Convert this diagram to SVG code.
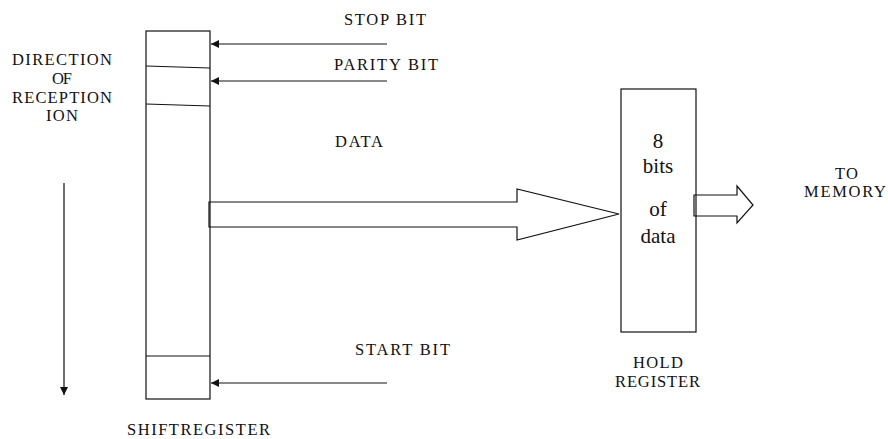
<svg xmlns="http://www.w3.org/2000/svg" width="888" height="439" viewBox="0 0 888 439">
<style>
.lbl{font-family:"Liberation Serif","Times New Roman",serif;font-size:16.5px;fill:#111}
.big{font-family:"Liberation Serif","Times New Roman",serif;font-size:21px;fill:#111;text-anchor:middle}
.box{fill:#fff;stroke:#111;stroke-width:1.2}
.ln{stroke:#111;stroke-width:1.2;fill:none}
</style>
<defs>
<marker id="ah" viewBox="0 0 10 10" refX="10" refY="5" markerWidth="8" markerHeight="8" markerUnits="userSpaceOnUse" orient="auto">
<path d="M0,0 L10,5 L0,10 z" fill="#111"/>
</marker>
</defs>
<rect width="888" height="439" fill="#fff"/>
<g id="direction">
<text class="lbl" x="12" y="65" textLength="100" lengthAdjust="spacing">DIRECTION</text>
<text class="lbl" x="52" y="84" textLength="20" lengthAdjust="spacing">OF</text>
<text class="lbl" x="12" y="103" textLength="100" lengthAdjust="spacing">RECEPTION</text>
<text class="lbl" x="46" y="121" textLength="32" lengthAdjust="spacing">ION</text>
<line class="ln" x1="64" y1="183" x2="64" y2="395" marker-end="url(#ah)"/>
</g>
<g id="shift-register">
<rect class="box" x="146" y="31" width="64" height="368"/>
<line class="ln" x1="146" y1="66" x2="210" y2="68"/>
<line class="ln" x1="146" y1="104" x2="210" y2="106"/>
<line class="ln" x1="146" y1="356" x2="210" y2="356"/>
<text class="lbl" x="127" y="435" textLength="143" lengthAdjust="spacing">SHIFTREGISTER</text>
</g>
<g id="hold-register">
<rect class="box" x="621" y="89" width="75" height="243"/>
<text class="big" x="658" y="148">8</text>
<text class="big" x="658" y="173">bits</text>
<text class="big" x="658" y="216">of</text>
<text class="big" x="658" y="243">data</text>
<text class="lbl" x="633" y="368" textLength="50" lengthAdjust="spacing">HOLD</text>
<text class="lbl" x="615" y="387" textLength="85" lengthAdjust="spacing">REGISTER</text>
</g>
<g id="labels">
<text class="lbl" x="344" y="25" textLength="82" lengthAdjust="spacing">STOP BIT</text>
<text class="lbl" x="334" y="70" textLength="104" lengthAdjust="spacing">PARITY BIT</text>
<text class="lbl" x="335" y="147" textLength="48" lengthAdjust="spacing">DATA</text>
<text class="lbl" x="355" y="355" textLength="95" lengthAdjust="spacing">START BIT</text>
<text class="lbl" x="835" y="179" textLength="23" lengthAdjust="spacing">TO</text>
<text class="lbl" x="804" y="197" textLength="82" lengthAdjust="spacing">MEMORY</text>
</g>
<g id="connectors">
<line class="ln" x1="387" y1="44" x2="211" y2="44" marker-end="url(#ah)"/>
<line class="ln" x1="387" y1="81" x2="211" y2="81" marker-end="url(#ah)"/>
<line class="ln" x1="387" y1="383" x2="211" y2="383" marker-end="url(#ah)"/>
<path class="ln" d="M209,202 L517,202 L517,189 L619,214 L517,240 L517,227 L209,227 Z" fill="#fff"/>
<path class="ln" d="M694,195 L737,195 L737,186 L753,205 L737,223 L737,216 L694,216 Z" fill="#fff"/>
</g>
</svg>
